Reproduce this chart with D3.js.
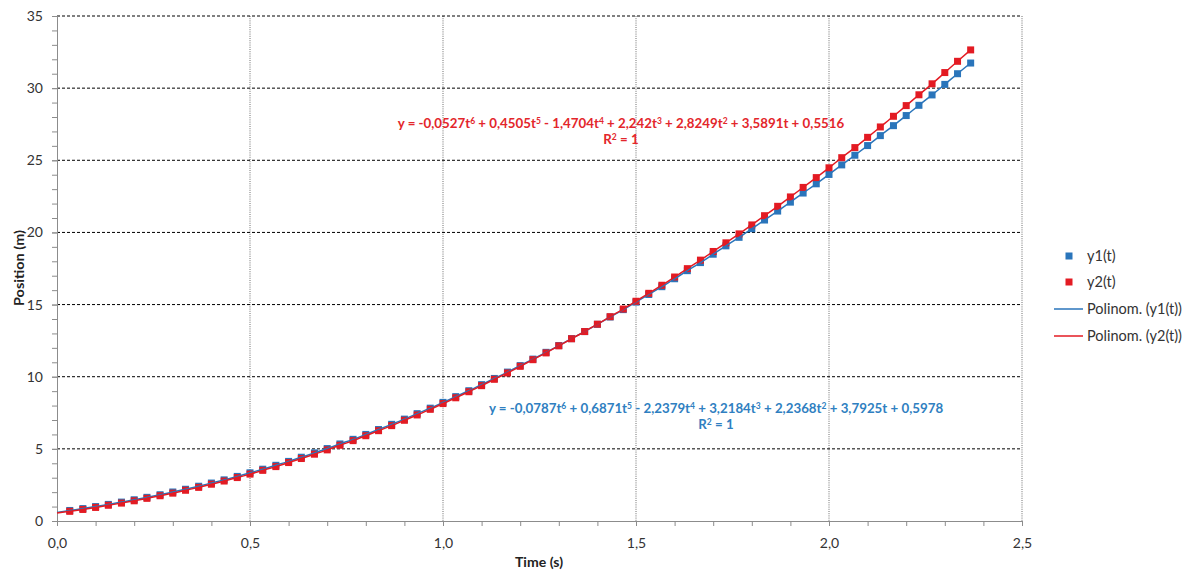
<!DOCTYPE html>
<html><head><meta charset="utf-8">
<script src="https://cdn.jsdelivr.net/npm/d3@7"></script>
<style>body{margin:0;background:#fff;}</style>
</head><body>
<svg id="chart" width="1184" height="572"></svg>
<script>
// ---- data ----
const times = [0.033,0.067,0.100,0.133,0.167,0.200,0.233,0.267,0.300,0.333,
  0.367,0.400,0.433,0.467,0.500,0.533,0.567,0.600,0.633,0.667,
  0.700,0.733,0.767,0.800,0.833,0.867,0.900,0.933,0.967,1.000,
  1.033,1.067,1.100,1.133,1.167,1.200,1.233,1.267,1.300,1.333,
  1.367,1.400,1.433,1.467,1.500,1.533,1.567,1.600,1.633,1.667,
  1.700,1.733,1.767,1.800,1.833,1.867,1.900,1.933,1.967,2.000,
  2.033,2.067,2.100,2.133,2.167,2.200,2.233,2.267,2.300,2.333,2.367];
const y1Values = [0.73,0.86,1.00,1.15,1.31,1.47,1.64,1.82,2.01,2.20,
  2.41,2.63,2.85,3.09,3.34,3.59,3.86,4.13,4.42,4.72,
  5.02,5.34,5.66,6.00,6.34,6.70,7.06,7.44,7.82,8.22,
  8.62,9.03,9.45,9.88,10.32,10.77,11.22,11.69,12.16,12.64,
  13.13,13.63,14.14,14.65,15.17,15.70,16.24,16.79,17.35,17.91,
  18.49,19.07,19.66,20.26,20.86,21.48,22.10,22.73,23.37,24.02,
  24.68,25.35,26.02,26.71,27.40,28.10,28.81,29.53,30.26,31.00,31.74];
const y2Values = [0.67,0.80,0.94,1.09,1.24,1.40,1.57,1.75,1.93,2.13,
  2.33,2.55,2.77,3.01,3.25,3.51,3.77,4.05,4.33,4.63,
  4.93,5.25,5.57,5.91,6.26,6.61,6.98,7.35,7.74,8.14,
  8.54,8.96,9.38,9.82,10.26,10.72,11.18,11.65,12.14,12.63,
  13.13,13.64,14.16,14.69,15.23,15.78,16.34,16.91,17.49,18.08,
  18.68,19.28,19.90,20.52,21.16,21.81,22.46,23.12,23.80,24.48,
  25.18,25.88,26.59,27.31,28.05,28.79,29.54,30.30,31.08,31.86,32.65];
// trendline coefficients (degree 6 .. 0), as printed on the chart
const coefY1 = [-0.0787, 0.6871, -2.2379, 3.2184, 2.2368, 3.7925, 0.5978];
const coefY2 = [-0.0527, 0.4505, -1.4704, 2.242, 2.8249, 3.5891, 0.5516];
const xTicks = [0, 0.5, 1.0, 1.5, 2.0, 2.5];
const yTicks = [0, 5, 10, 15, 20, 25, 30, 35];
const seriesNames = ["y1(t)", "y2(t)", "Polinom. (y1(t))", "Polinom. (y2(t))"];
const xTitle = "Time (s)";
const yTitle = "Position (m)";

// ---- styles ----
const BLUE = "#2a75bb", RED = "#e31b23";
const BLUE_TXT = "#2f7fc1", RED_TXT = "#e3262b";
const FONT = "Lato, 'Open Sans', sans-serif";

const svg = d3.select("#chart");
const x = d3.scaleLinear().domain([0, 2.5]).range([57, 1022]);
const y = d3.scaleLinear().domain([0, 35]).range([521, 16]);
const locale = d3.formatLocale({decimal: ",", thousands: ".", grouping: [3], currency: ["", ""]});
const fx = locale.format(".1f");

// gridlines
const grid = svg.append("g");
grid.selectAll("line.v").data(xTicks.filter(d => d > 0)).join("line")
  .attr("x1", d => x(d)).attr("x2", d => x(d))
  .attr("y1", y(35)).attr("y2", y(0))
  .attr("stroke", "#6e6e6e").attr("stroke-width", 1).attr("stroke-dasharray", "1,1.2");
grid.selectAll("line.h").data(yTicks.filter(d => d > 0)).join("line")
  .attr("x1", x(0)).attr("x2", x(2.5))
  .attr("y1", d => y(d)).attr("y2", d => y(d))
  .attr("stroke", "#000").attr("stroke-width", 1).attr("stroke-dasharray", "3,2");

// axes
const xAxisMinor = d3.axisBottom(x).ticks(25).tickSize(5).tickFormat("");
const yAxisMinor = d3.axisLeft(y).ticks(35).tickSize(5).tickFormat("");
const gxm = svg.append("g").attr("transform", `translate(0,${y(0)})`).call(xAxisMinor);
const gym = svg.append("g").attr("transform", `translate(${x(0)},0)`).call(yAxisMinor);
[gxm, gym].forEach(g => {
  g.select(".domain").attr("stroke", "#8c8c8c");
  g.selectAll(".tick line").attr("stroke", "#8c8c8c");
});
const gx = svg.append("g").attr("transform", `translate(0,${y(0)})`)
  .call(d3.axisBottom(x).tickValues(xTicks).tickSize(5).tickPadding(12).tickFormat(fx));
const gy = svg.append("g").attr("transform", `translate(${x(0)},0)`)
  .call(d3.axisLeft(y).tickValues(yTicks).tickSize(5).tickPadding(9));
[gx, gy].forEach(g => {
  g.select(".domain").remove();
  g.selectAll(".tick line").attr("stroke", "#8c8c8c");
  g.selectAll(".tick text").attr("fill", "#333").attr("font-size", 14).attr("font-family", FONT);
});

// axis titles
svg.append("text").attr("x", 539).attr("y", 567).attr("text-anchor", "middle")
  .attr("font-family", FONT).attr("font-weight", "bold").attr("font-size", 13.5).attr("fill", "#222")
  .attr("textLength", 48).attr("lengthAdjust", "spacingAndGlyphs")
  .text(xTitle);
svg.append("text").attr("transform", `translate(24,268) rotate(-90)`).attr("text-anchor", "middle")
  .attr("font-family", FONT).attr("font-weight", "bold").attr("font-size", 14).attr("fill", "#222")
  .attr("textLength", 76).attr("lengthAdjust", "spacingAndGlyphs")
  .text(yTitle);

// data
const d1 = times.map((t, i) => ({t, v: y1Values[i]}));
const d2 = times.map((t, i) => ({t, v: y2Values[i]}));
const M = 7;
const plot = svg.append("g");
plot.selectAll("rect.b").data(d1).join("rect")
  .attr("x", d => x(d.t) - M / 2).attr("y", d => y(d.v) - M / 2)
  .attr("width", M).attr("height", M).attr("fill", BLUE);
plot.selectAll("rect.r").data(d2).join("rect")
  .attr("x", d => x(d.t) - M / 2).attr("y", d => y(d.v) - M / 2)
  .attr("width", M).attr("height", M).attr("fill", RED);

// trendlines (start at the fitted intercept, then through the points)
const line = d3.line().x(d => x(d.t)).y(d => y(d.v)).curve(d3.curveMonotoneX);
plot.append("path").datum([{t: 0, v: coefY1[6]}, ...d1]).attr("d", line)
  .attr("fill", "none").attr("stroke", BLUE).attr("stroke-width", 1.5);
plot.append("path").datum([{t: 0, v: coefY2[6]}, ...d2]).attr("d", line)
  .attr("fill", "none").attr("stroke", RED).attr("stroke-width", 1.5);

// equations
function equation(coefs, cx, cy, color) {
  const g = svg.append("g").attr("font-family", FONT).attr("font-weight", "bold").attr("fill", color);
  const txt = g.append("text").attr("x", cx).attr("y", cy).attr("text-anchor", "middle").attr("font-size", 13.3);
  coefs.forEach((c, i) => {
    const deg = coefs.length - 1 - i;
    const s = String(Math.abs(c)).replace(".", ",");
    const prefix = i === 0 ? ("y = " + (c < 0 ? "-" : "")) : (c < 0 ? " - " : " + ");
    const prevSup = (deg + 1) >= 2 && i > 0;
    txt.append("tspan").attr("dy", prevSup ? 4 : 0).text(prefix + s + (deg >= 1 ? "t" : ""));
    if (deg >= 2) txt.append("tspan").attr("font-size", 8.5).attr("dy", -4).text(deg);
  });
  const r = g.append("text").attr("x", cx).attr("y", cy + 16).attr("text-anchor", "middle").attr("font-size", 13.3);
  r.append("tspan").text("R");
  r.append("tspan").attr("font-size", 8.5).attr("dy", -4).text("2");
  r.append("tspan").attr("dy", 4).text(" = 1");
}
equation(coefY2, 621, 128, RED_TXT);
equation(coefY1, 716, 413, BLUE_TXT);

// legend
const lg = svg.append("g").attr("font-family", FONT).attr("font-size", 14.5).attr("fill", "#333");
const legendRows = [
  {name: seriesNames[0], type: "m", color: BLUE, yy: 256},
  {name: seriesNames[1], type: "m", color: RED, yy: 282},
  {name: seriesNames[2], type: "l", color: BLUE, yy: 309},
  {name: seriesNames[3], type: "l", color: RED, yy: 336}
];
legendRows.forEach(r => {
  if (r.type === "m") {
    lg.append("rect").attr("x", 1069 - 3.5).attr("y", r.yy - 3.5).attr("width", 7).attr("height", 7).attr("fill", r.color);
  } else {
    lg.append("line").attr("x1", 1054).attr("x2", 1083).attr("y1", r.yy).attr("y2", r.yy)
      .attr("stroke", r.color).attr("stroke-width", 1.5);
  }
  lg.append("text").attr("x", 1087).attr("y", r.yy + 5).text(r.name);
});
</script>
</body></html>
